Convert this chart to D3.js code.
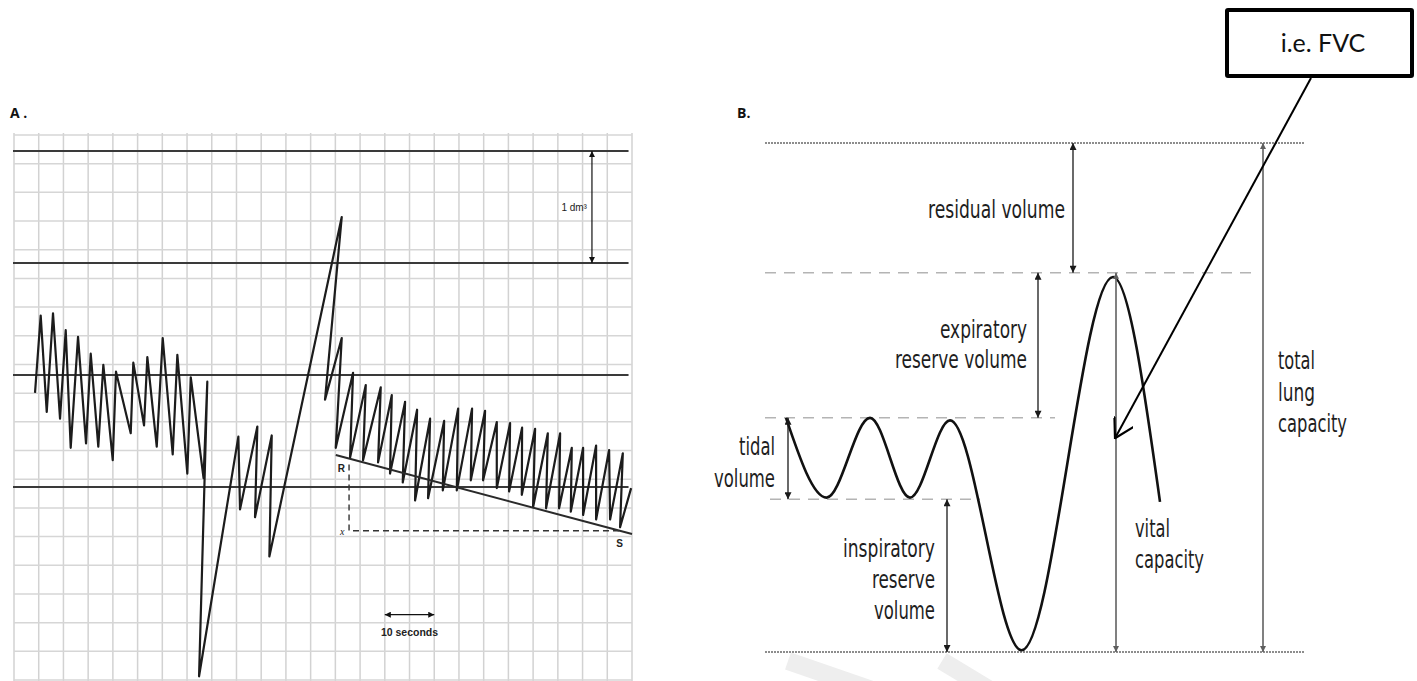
<!DOCTYPE html>
<html>
<head>
<meta charset="utf-8">
<script src="https://cdn.jsdelivr.net/npm/d3@7"></script>
<style>
  html, body { margin: 0; padding: 0; background: #fff; }
  svg { display: block; }
  .narrow { font-family: "Liberation Sans Narrow", "Arial Narrow", "DejaVu Sans Condensed", "DejaVu Sans", sans-serif; font-size: 24px; fill: #1e1e1e; }
  .small { font-family: "Liberation Sans", Arial, sans-serif; fill: #222; }
  .panel { font-family: "Open Sans", "Liberation Sans", sans-serif; font-weight: 700; font-size: 14px; fill: #111; }
</style>
</head>
<body>
<svg id="fig" width="1417" height="681"></svg>
<script>
// ---------------- Panel A: kymograph spirometer record ----------------
// time in seconds, volume in dm³ (thick reference lines at whole dm³)
const traceTime = [4.25,5.40,6.62,7.89,9.31,10.46,11.47,12.95,14.57,15.52,17.05,18.07,19.97,20.63,23.61,24.13,26.30,26.97,28.87,30.08,32.10,33.04,35.06,35.75,38.34,39.10,37.43,
  45.38,45.72,49.22,48.75,52.13,51.65,66.29,62.91,66.29,65.08,
  68.58,67.97,71.15,70.60,74.18,73.64,76.41,76.06,79.10,78.63,81.53,81.12,84.16,83.75,87.00,86.73,89.83,89.56,92.65,92.39,95.28,94.88,97.65,97.65,100.34,100.14,102.77,102.71,105.40,104.99,107.97,107.62,110.46,110.25,112.82,112.62,115.11,115.11,117.74,117.74,120.37,120.57,123.14,122.59,124.82];
const traceVolume = [0.84,1.53,0.67,1.55,0.61,1.40,0.35,1.34,0.39,1.19,0.36,1.09,0.24,1.03,0.48,1.11,0.55,1.16,0.36,1.33,0.29,1.18,0.12,0.98,0.08,0.94,-1.69,
  0.45,-0.20,0.54,-0.27,0.46,-0.62,2.41,0.78,1.33,0.35,
  1.02,0.26,0.91,0.24,0.89,0.22,0.82,0.12,0.76,0.04,0.69,-0.12,0.61,-0.10,0.59,-0.03,0.70,-0.03,0.70,0.06,0.68,0.06,0.58,-0.01,0.57,-0.04,0.53,-0.07,0.52,-0.18,0.48,-0.19,0.48,-0.19,0.35,-0.22,0.35,-0.25,0.37,-0.29,0.33,-0.29,0.30,-0.36,-0.01];
const refVolumes = [0, 1, 2, 3];          // thick 1 dm³ lines
const gridTimes = d3.range(0, 126, 5);    // one division = 5 s
const paperRows = d3.range(0, 20);        // printed horizontal rulings
const slopeTime = [65.08, 125.0];         // line R–S
const slopeVolume = [0.285, -0.42];
const dropTime = 67.77;                   // dashed drop from R to x
const baseVolume = -0.39;                 // dashed line x–S
const baseEndTime = 122.6;
const calibTime = 116.9;                  // 1 dm³ calibration
const calibVolume = [2, 3];
const tenSecTime = [75, 85];              // 10 seconds bar
const tenSecVolume = -1.14;

// ---------------- Panel B: lung volumes ----------------
const levelVolume = [0, 1.53, 3.24, 4.2, 6.0];
const levelStart  = [0, 0, 0, 0.25, 0];
const levelEnd    = [27, 24.5, 14.5, 10.75, 27];
const breathTime   = [1.05, 3.08, 5.25, 7.25, 9.25, 12.83, 17.4, 19.75];
const breathVolume = [3.24, 4.18, 3.24, 4.18, 3.27, 5.98, 1.58, 4.23];
const spanTime = [15.4, 13.65, 1.15, 9.1, 17.55, 24.9];
const spanFrom = [0, 1.53, 3.24, 4.2, 1.53, 0];
const spanTo   = [1.53, 3.24, 4.2, 6.0, 6.0, 6.0];
const spanGrey = [false, false, false, false, true, true];
const fvcTip = [17.5, 3.48];

const svg = d3.select("#fig");
const defs = svg.append("defs");

function solidHead(id, color, len, wid) {
  defs.append("marker").attr("id", id)
    .attr("viewBox", "0 0 10 10").attr("refX", 10).attr("refY", 5)
    .attr("markerWidth", len).attr("markerHeight", wid)
    .attr("markerUnits", "userSpaceOnUse").attr("orient", "auto-start-reverse")
    .append("path").attr("d", "M0,0L10,5L0,10Z").attr("fill", color);
}
solidHead("headDark", "#1a1a1a", 11, 7);
solidHead("headGrey", "#5e5e5e", 11, 6);
solidHead("headA", "#111", 9, 6);
defs.append("marker").attr("id", "openHead")
  .attr("viewBox", "0 0 20 22").attr("refX", 19).attr("refY", 11)
  .attr("markerWidth", 20).attr("markerHeight", 22)
  .attr("markerUnits", "userSpaceOnUse").attr("orient", "auto")
  .append("path").attr("d", "M0,0L19,11L0,22").attr("fill", "none")
  .attr("stroke", "#000").attr("stroke-width", 2.2);

// ================= Panel A =================
const xA = d3.scaleLinear().domain([0, 125]).range([14, 632]);
const yA = d3.scaleLinear().domain([0, 3]).range([487, 151]);
const rowY = d3.scaleLinear().domain([0, 19]).range([135, 680]);
const gA = svg.append("g");

gA.selectAll("line.vgrid").data(gridTimes).join("line")
  .attr("x1", d => xA(d)).attr("x2", d => xA(d))
  .attr("y1", 133).attr("y2", 681)
  .attr("stroke", "#d2d2d2").attr("stroke-width", 1.5);
gA.selectAll("line.hgrid").data(paperRows).join("line")
  .attr("x1", xA(0)).attr("x2", xA(125))
  .attr("y1", d => rowY(d)).attr("y2", d => rowY(d))
  .attr("stroke", "#d6d6d6").attr("stroke-width", 1.5);

gA.selectAll("line.ref").data(refVolumes).join("line")
  .attr("x1", xA(-0.2)).attr("x2", xA(124.3))
  .attr("y1", d => yA(d)).attr("y2", d => yA(d))
  .attr("stroke", "#3a3a3a").attr("stroke-width", 2);

const trace = traceTime.map((t, i) => [t, traceVolume[i]]);
gA.append("path").datum(trace)
  .attr("d", d3.line().x(d => xA(d[0])).y(d => yA(d[1])))
  .attr("fill", "none").attr("stroke", "#1c1c1c").attr("stroke-width", 2.2)
  .attr("stroke-linejoin", "round");

gA.append("line")
  .attr("x1", xA(slopeTime[0])).attr("y1", yA(slopeVolume[0]))
  .attr("x2", xA(slopeTime[1])).attr("y2", yA(slopeVolume[1]))
  .attr("stroke", "#2a2a2a").attr("stroke-width", 2);
gA.append("path")
  .attr("d", `M${xA(dropTime)},${yA(0.2)}V${yA(baseVolume)}H${xA(baseEndTime)}`)
  .attr("fill", "none").attr("stroke", "#333").attr("stroke-width", 1.4)
  .attr("stroke-dasharray", "6,4");

gA.append("line")
  .attr("x1", xA(calibTime)).attr("x2", xA(calibTime))
  .attr("y1", yA(calibVolume[0])).attr("y2", yA(calibVolume[1]))
  .attr("stroke", "#111").attr("stroke-width", 1.2)
  .attr("marker-start", "url(#headA)").attr("marker-end", "url(#headA)");
gA.append("text").attr("class", "small")
  .attr("x", xA(calibTime) - 5).attr("y", yA(2.5) + 4)
  .attr("text-anchor", "end").attr("font-size", 10).text("1 dm³");

gA.append("line")
  .attr("x1", xA(tenSecTime[0])).attr("x2", xA(tenSecTime[1]))
  .attr("y1", yA(tenSecVolume)).attr("y2", yA(tenSecVolume))
  .attr("stroke", "#111").attr("stroke-width", 1.2)
  .attr("marker-start", "url(#headA)").attr("marker-end", "url(#headA)");
gA.append("text").attr("class", "small")
  .attr("x", xA(d3.mean(tenSecTime))).attr("y", yA(tenSecVolume) + 21)
  .attr("text-anchor", "middle").attr("font-size", 10.5).attr("font-weight", 600)
  .text("10 seconds");

gA.append("text").attr("class", "small").attr("font-size", 10).attr("font-weight", 700)
  .attr("x", xA(slopeTime[0]) + 2).attr("y", yA(slopeVolume[0]) + 17).text("R");
gA.append("text").attr("class", "small").attr("font-size", 10).attr("font-weight", 700)
  .attr("x", xA(baseEndTime) - 4).attr("y", yA(baseVolume) + 16).text("S");
gA.append("text").attr("font-family", "Liberation Serif, serif").attr("font-style", "italic")
  .attr("font-size", 10).attr("fill", "#222")
  .attr("x", xA(dropTime) - 9).attr("y", yA(baseVolume) + 4).text("x");

svg.append("text").attr("class", "panel").attr("x", 10).attr("y", 118).text("A .");

// ================= Panel B =================
const xB = d3.scaleLinear().domain([0, 27]).range([765, 1305]);
const yB = d3.scaleLinear().domain([0, 6]).range([143, 652]);
const gB = svg.append("g");

// faint watermark strokes near the bottom
gB.append("line").attr("x1", 788).attr("y1", 661).attr("x2", 872).attr("y2", 690)
  .attr("stroke", "#eeeeee").attr("stroke-width", 18);
gB.append("line").attr("x1", 942).attr("y1", 661).attr("x2", 990).attr("y2", 690)
  .attr("stroke", "#eeeeee").attr("stroke-width", 18);

gB.selectAll("line.level").data(levelVolume).join("line")
  .attr("x1", (d, i) => xB(levelStart[i])).attr("x2", (d, i) => xB(levelEnd[i]))
  .attr("y1", d => yB(d)).attr("y2", d => yB(d))
  .attr("stroke", (d, i) => (i === 0 || i === 4) ? "#8d8d8d" : "#b4b4b4")
  .attr("stroke-width", (d, i) => (i === 0 || i === 4) ? 1.8 : 1.5)
  .attr("stroke-dasharray", (d, i) => (i === 0 || i === 4) ? "2,1" : "11,8");

const breath = breathTime.map((t, i) => [t, breathVolume[i]]);
gB.append("path").datum(breath)
  .attr("d", d3.line().x(d => xB(d[0])).y(d => yB(d[1])).curve(d3.curveMonotoneX))
  .attr("fill", "none").attr("stroke", "#111").attr("stroke-width", 2.6);

gB.selectAll("line.span").data(spanTime).join("line")
  .attr("x1", d => xB(d)).attr("x2", d => xB(d))
  .attr("y1", (d, i) => yB(spanFrom[i])).attr("y2", (d, i) => yB(spanTo[i]))
  .attr("stroke", (d, i) => spanGrey[i] ? "#6a6a6a" : "#1a1a1a")
  .attr("stroke-width", (d, i) => spanGrey[i] ? 1.7 : 1.3)
  .attr("marker-start", (d, i) => spanGrey[i] ? "url(#headGrey)" : "url(#headDark)")
  .attr("marker-end", (d, i) => spanGrey[i] ? "url(#headGrey)" : "url(#headDark)");

// condensed labels: each line is fitted to the width of a narrow sans face
function label(lines, widths, x, y0, step, anchor) {
  const t = gB.append("text").attr("class", "narrow").attr("text-anchor", anchor);
  lines.forEach((s, i) => t.append("tspan").attr("x", x).attr("y", y0 + i * step)
    .attr("textLength", widths[i]).attr("lengthAdjust", "spacingAndGlyphs").text(s));
}
label(["residual volume"], [137], 1065, 218, 0, "end");
label(["expiratory", "reserve volume"], [87, 132], 1027, 338, 30, "end");
label(["tidal", "volume"], [36, 61], 775, 455, 32, "end");
label(["inspiratory", "reserve", "volume"], [92, 63, 61], 935, 557, 31, "end");
label(["vital", "capacity"], [35, 69], 1135, 537, 31, "start");
label(["total", "lung", "capacity"], [37, 37, 69], 1278, 369, 31.5, "start");

svg.append("text").attr("class", "panel").attr("x", 737).attr("y", 118).text("B.");

// callout box and pointer
svg.append("rect").attr("x", 1227).attr("y", 10).attr("width", 185).attr("height", 66)
  .attr("fill", "#fff").attr("stroke", "#000").attr("stroke-width", 4).attr("rx", 1);
svg.append("text").attr("x", 1323).attr("y", 52).attr("text-anchor", "middle")
  .attr("font-family", "Lato, 'Open Sans', sans-serif").attr("font-size", 25).attr("fill", "#111")
  .text("i.e. FVC");
svg.append("line").attr("x1", 1311).attr("y1", 78)
  .attr("x2", xB(fvcTip[0])).attr("y2", yB(fvcTip[1]))
  .attr("stroke", "#000").attr("stroke-width", 2)
  .attr("marker-end", "url(#openHead)");
</script>
</body>
</html>
